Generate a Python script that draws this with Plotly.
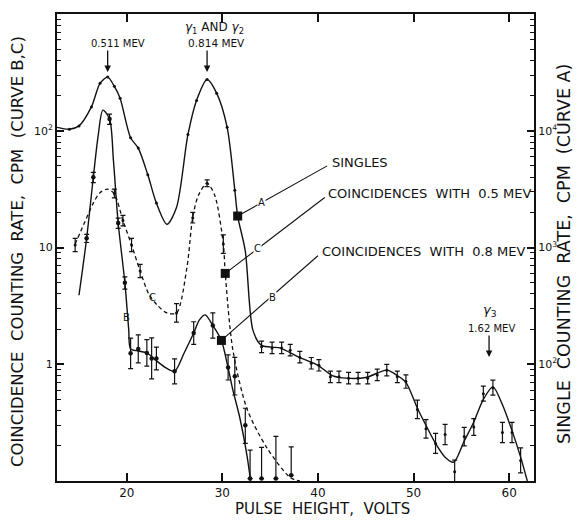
import numpy as np
import plotly.graph_objects as go

# ---------------- data ----------------
# Curve A (singles, right axis, cpm) - smooth curve
a_curve_x = [12.7, 14.0, 15.0, 16.3, 17.2, 18.0, 18.7, 19.3, 20.4, 21.2, 22.2, 23.1, 24.2, 25.2,
             26.4, 27.3, 28.4, 29.4, 30.5, 31.3, 31.6, 32.4, 33.2, 34.1, 36.0, 38.0, 40.0, 41.5,
             43.0, 45.0, 47.2, 48.3, 49.2, 50.4, 51.3, 52.3, 53.3, 54.2, 55.3, 56.3, 57.3, 58.3,
             59.3, 60.3, 61.2, 61.9]
a_curve_y = [10700, 10300, 11000, 16000, 25500, 28800, 24000, 19000, 8700, 7100, 4200, 2400, 1580, 2200,
             9300, 18200, 27500, 21000, 10700, 3100, 1860, 930, 195, 145, 138, 115, 98, 80,
             76, 77, 89, 80, 70, 42, 30, 21, 16, 14.5, 22, 32, 50, 64,
             45, 27, 16, 10]
# Curve A measured points (peak region, no error bars)
a_peak_x = [14.0, 15.0, 16.3, 17.2, 18.0, 18.7, 19.3, 20.4, 21.2, 22.2, 23.1, 26.4, 27.3, 28.4, 29.4, 30.5, 31.3]
a_peak_y = [10300, 11000, 16000, 25500, 28800, 24000, 19000, 8700, 7100, 4200, 2400, 9300, 18200, 27500, 21000, 10700, 3100]
# Curve A measured points (tail, with error bars, fractional error)
a_tail_x = [34.1, 35.2, 36.2, 37.1, 38.1, 39.3, 40.1, 41.3, 42.2, 43.2, 44.2, 45.2, 46.2, 47.2, 48.3,
            49.2, 50.4, 51.3, 52.3, 53.3, 54.3, 55.3, 56.3, 57.3, 58.3, 59.3, 60.3, 61.2]
a_tail_y = [141, 138, 138, 132, 115, 102, 98, 78, 78, 76, 76, 76, 81, 89, 78,
            71, 41, 28, 21, 25, 12, 24, 29, 56, 63, 26, 26, 15]
a_tail_err = [0.12, 0.12, 0.12, 0.12, 0.12, 0.12, 0.12, 0.12, 0.12, 0.12, 0.12, 0.12, 0.12, 0.12, 0.12,
              0.14, 0.2, 0.2, 0.22, 0.22, 0.26, 0.2, 0.18, 0.16, 0.16, 0.22, 0.22, 0.28]

# Curve B (coincidences with 0.8 MeV, left axis)
b_curve_x = [15.0, 15.8, 16.5, 17.0, 17.5, 18.2, 18.6, 19.1, 19.8, 20.2, 20.4, 21.2, 22.1, 23.1, 24.2,
             25.0, 26.0, 27.0, 27.6, 28.2, 29.0, 29.9, 30.6, 31.1, 31.8, 32.6, 32.95]
b_curve_y = [3.9, 12, 40, 90, 150, 126, 56, 16.2, 5.0, 2.0, 1.35, 1.3, 1.25, 1.07, 0.92,
             0.87, 1.25, 1.85, 2.4, 2.65, 2.15, 1.6, 0.93, 0.6, 0.355, 0.16, 0.1]
b_pts_x = [15.8, 16.5, 18.2, 19.1, 19.8, 20.4, 21.2, 22.1, 22.6, 23.1, 25.0, 27.0, 29.0, 30.6, 31.3,
           32.4, 32.9, 34.1, 35.6, 37.2]
b_pts_y = [12, 40, 126, 16.2, 5.0, 1.24, 1.35, 1.25, 1.12, 1.12, 0.87, 1.85, 2.15, 0.94, 0.79,
           0.30, 0.105, 0.105, 0.105, 0.112]
b_err_hi = [0.08, 0.1, 0.1, 0.1, 0.12, 0.35, 0.32, 0.3, 0.5, 0.25, 0.28, 0.25, 0.28, 0.28, 0.45,
            0.4, 0.75, 0.85, 1.3, 0.75]
b_err_lo = [0.08, 0.1, 0.1, 0.1, 0.12, 0.26, 0.24, 0.23, 0.33, 0.2, 0.22, 0.2, 0.22, 0.22, 0.31,
            0.3, 0.0, 0.0, 0.0, 0.0]

# Curve C (coincidences with 0.5 MeV, left axis)
c_curve_x = [14.6, 15.5, 16.5, 17.2, 18.0, 18.7, 19.6, 20.5, 21.4, 22.3, 23.2, 24.2, 25.2, 26.3, 26.9,
             27.5, 28.4, 29.2, 30.1, 30.3, 31.1, 32.6, 34.7, 37.1, 38.1]
c_curve_y = [10.7, 15.8, 24, 29.5, 31.6, 28.8, 17, 10.5, 6.3, 4.0, 3.2, 2.75, 2.75, 6.8, 18.2,
             28, 35.5, 28, 10.7, 6.0, 1.32, 0.41, 0.19, 0.107, 0.10]
c_pts_x = [14.6, 18.7, 19.6, 20.5, 21.4, 25.2, 26.9, 28.4, 30.1]
c_pts_y = [10.5, 29, 17, 10.5, 6.3, 2.75, 18, 35.5, 10.7]
c_err = [0.14, 0.09, 0.11, 0.14, 0.14, 0.2, 0.11, 0.07, 0.2]

# labelled squares on each curve
sq_a = (31.6, 1860)
sq_c = (30.3, 6.0)
sq_b = (29.9, 1.6)

# peak arrows
peak_volts = [18.0, 28.4, 57.9]

left_tickvals = [1, 10, 100]
left_ticktext = ["1", "10", "10<sup>2</sup>"]
right_tickvals = [100, 1000, 10000]
right_ticktext = ["10<sup>2</sup>", "10<sup>3</sup>", "10<sup>4</sup>"]
x_tickvals = [20, 30, 40, 50, 60]

# ---------------- figure ----------------
FONT = "DejaVu Sans"
INK = "#111111"

fig = go.Figure()

# curve A
fig.add_trace(go.Scatter(x=a_curve_x, y=a_curve_y, mode="lines", yaxis="y2",
                         line=dict(color=INK, width=1.4, shape="spline", smoothing=0.8),
                         hoverinfo="skip", showlegend=False))
fig.add_trace(go.Scatter(x=a_peak_x, y=a_peak_y, mode="markers", yaxis="y2",
                         marker=dict(color=INK, size=3), showlegend=False))
a_ty = np.array(a_tail_y, float)
a_te = np.array(a_tail_err, float)
fig.add_trace(go.Scatter(x=a_tail_x, y=a_tail_y, mode="markers", yaxis="y2",
                         marker=dict(color=INK, size=3),
                         error_y=dict(type="data", array=a_ty * a_te, arrayminus=a_ty * a_te / (1 + a_te),
                                      color=INK, thickness=1.2, width=2.5),
                         showlegend=False))

# curve C
fig.add_trace(go.Scatter(x=c_curve_x, y=c_curve_y, mode="lines",
                         line=dict(color=INK, width=1.3, dash="4px,3px", shape="spline", smoothing=0.8),
                         showlegend=False))
c_py = np.array(c_pts_y, float)
c_pe = np.array(c_err, float)
fig.add_trace(go.Scatter(x=c_pts_x, y=c_pts_y, mode="markers",
                         marker=dict(color=INK, size=3),
                         error_y=dict(type="data", array=c_py * c_pe, arrayminus=c_py * c_pe / (1 + c_pe),
                                      color=INK, thickness=1.2, width=2.5),
                         showlegend=False))

# curve B
fig.add_trace(go.Scatter(x=b_curve_x, y=b_curve_y, mode="lines",
                         line=dict(color=INK, width=1.4, shape="spline", smoothing=0.8),
                         showlegend=False))
b_py = np.array(b_pts_y, float)
fig.add_trace(go.Scatter(x=b_pts_x, y=b_pts_y, mode="markers",
                         marker=dict(color=INK, size=4.5),
                         error_y=dict(type="data", array=b_py * np.array(b_err_hi),
                                      arrayminus=b_py * np.array(b_err_lo),
                                      color=INK, thickness=1.2, width=2.5),
                         showlegend=False))

# squares
fig.add_trace(go.Scatter(x=[sq_a[0]], y=[sq_a[1]], mode="markers", yaxis="y2",
                         marker=dict(symbol="square", color=INK, size=9), showlegend=False))
fig.add_trace(go.Scatter(x=[sq_c[0], sq_b[0]], y=[sq_c[1], sq_b[1]], mode="markers",
                         marker=dict(symbol="square", color=INK, size=9), showlegend=False))

def py2paper(py):
    return (481 - py) / 467.0

def px2paper(px):
    return (px - 57) / 477.0

ann = []
# peak arrows
arrow_tips = [72, 72, 357]
for v, tip in zip(peak_volts, arrow_tips):
    ann.append(dict(x=v, y=py2paper(tip), xref="x", yref="paper", text="", showarrow=True,
                    ax=0, ay=-23, arrowhead=2, arrowsize=1.0, arrowwidth=1.3, arrowcolor=INK))

txt = [
    ("0.511 MEV", 118, 43, 10),
    ("<i>γ</i><sub>1</sub> AND <i>γ</i><sub>2</sub>", 214, 28, 12),
    ("0.814 MEV", 216, 43, 10.5),
    ("<i>γ</i><sub>3</sub>", 490, 310, 13),
    ("1.62 MEV", 491, 328, 10),
]
for t, px, py, s in txt:
    ann.append(dict(x=px2paper(px), y=py2paper(py), xref="paper", yref="paper", text=t,
                    xanchor="center", yanchor="middle",
                    showarrow=False, font=dict(family=FONT, size=s, color=INK)))

labels = [
    ("SINGLES", 330, 163),
    ("COINCIDENCES  WITH  0.5 MEV", 326, 193),
    ("COINCIDENCES  WITH  0.8 MEV", 320, 251),
]
for t, px, py in labels:
    ann.append(dict(x=px2paper(px), y=py2paper(py), xref="paper", yref="paper", text=t,
                    xanchor="left", yanchor="middle", showarrow=False,
                    font=dict(family=FONT, size=13, color=INK)))

# leader lines from squares
ann.append(dict(x=sq_a[0], y=np.log10(sq_a[1]), xref="x", yref="y2", text="", showarrow=True,
                ax=91, ay=-51, arrowhead=0, arrowwidth=1.1, arrowcolor=INK, standoff=0))
ann.append(dict(x=sq_c[0], y=np.log10(sq_c[1]), xref="x", yref="y", text="", showarrow=True,
                ax=101, ay=-77, arrowhead=0, arrowwidth=1.1, arrowcolor=INK, standoff=0))
ann.append(dict(x=sq_b[0], y=np.log10(sq_b[1]), xref="x", yref="y", text="", showarrow=True,
                ax=98, ay=-86, arrowhead=0, arrowwidth=1.1, arrowcolor=INK, standoff=0))

letters = [("A", 261, 202, True), ("C", 257, 248, True), ("B", 272, 298, True),
           ("C", 152, 297, False), ("B", 126, 317, False)]
for t, px, py, bg in letters:
    ann.append(dict(x=px2paper(px), y=py2paper(py), xref="paper", yref="paper", text=t,
                    xanchor="center", yanchor="middle",
                    showarrow=False, bgcolor="white" if bg else None, borderpad=0,
                    font=dict(family=FONT, size=10, color=INK)))

# axis titles
ann.append(dict(x=px2paper(17), y=py2paper(252), xref="paper", yref="paper",
                text="COINCIDENCE  COUNTING  RATE,  CPM  (CURVE B,C)", textangle=-90,
                xanchor="center", yanchor="middle",
                showarrow=False, font=dict(family=FONT, size=16.5, color=INK)))
ann.append(dict(x=px2paper(564), y=py2paper(254), xref="paper", yref="paper",
                text="SINGLE  COUNTING  RATE,  CPM  (CURVE A)", textangle=-90,
                xanchor="center", yanchor="middle",
                showarrow=False, font=dict(family=FONT, size=17.5, color=INK)))
ann.append(dict(x=px2paper(322), y=py2paper(509), xref="paper", yref="paper",
                text="PULSE  HEIGHT,  VOLTS", xanchor="center", yanchor="middle",
                showarrow=False, font=dict(family=FONT, size=15, color=INK)))

left_minor = [m * 10.0 ** e for e in (-1, 0, 1, 2) for m in range(2, 10)]
right_minor = [m * 10.0 ** e for e in (1, 2, 3, 4) for m in range(2, 10)]

fig.update_layout(
    width=578, height=521,
    margin=dict(l=57, r=44, t=14, b=40, autoexpand=False),
    paper_bgcolor="white", plot_bgcolor="white",
    font=dict(family=FONT, color=INK, size=12),
    annotations=ann,
    xaxis=dict(range=[12.7, 62.6], tickvals=x_tickvals, ticks="inside", ticklen=8, tickwidth=1.5,
               tickcolor=INK, showline=True, linecolor=INK, linewidth=2, mirror="ticks",
               showgrid=False, zeroline=False, tickfont=dict(size=12), automargin=False),
    yaxis=dict(type="log", range=[-1, 3], tickvals=left_tickvals, ticktext=left_ticktext,
               ticks="inside", ticklen=7, tickwidth=1.5, tickcolor=INK,
               minor=dict(tickvals=left_minor, ticks="inside", ticklen=4, tickcolor=INK, tickwidth=1.2),
               showline=True, linecolor=INK, linewidth=2, showgrid=False, zeroline=False,
               tickfont=dict(size=11), automargin=False),
    yaxis2=dict(type="log", range=[1, 5], overlaying="y", side="right",
                tickvals=right_tickvals, ticktext=right_ticktext,
                ticks="inside", ticklen=7, tickwidth=1.5, tickcolor=INK,
                minor=dict(tickvals=right_minor, ticks="inside", ticklen=4, tickcolor=INK, tickwidth=1.2),
                showline=True, linecolor=INK, linewidth=2, showgrid=False, zeroline=False,
                tickfont=dict(size=11), automargin=False),
)

fig.write_html("out.html", config={"displayModeBar": False},
               post_script="document.body.style.margin='0px';")
